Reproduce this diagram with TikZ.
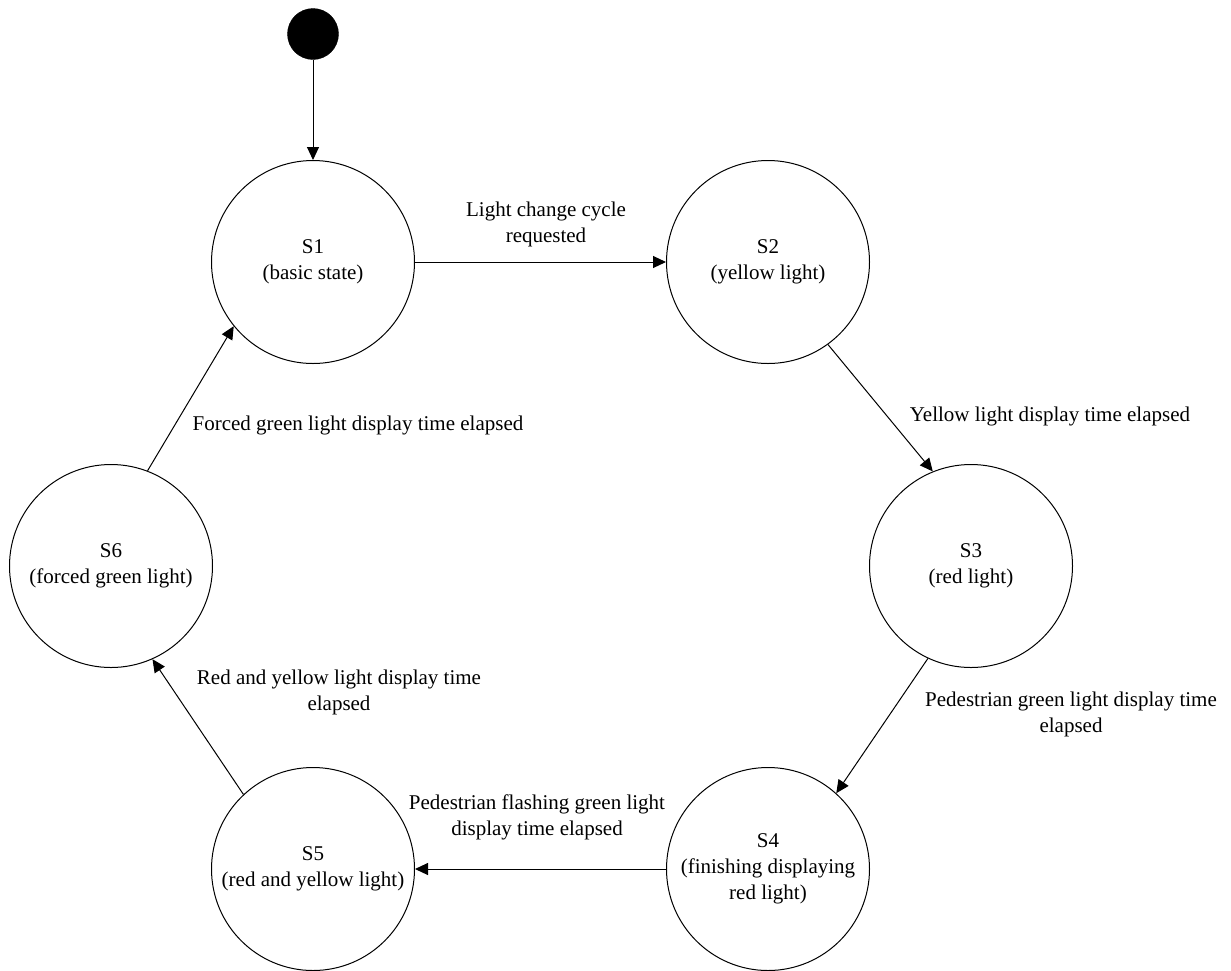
\documentclass[tikz,border=0pt]{standalone}
\usepackage{fontspec}
\setmainfont{Liberation Serif}
\usepackage{tikz}
\usetikzlibrary{positioning, arrows.meta}

\tikzset{
  state/.style={draw, circle, line width=1pt, minimum size=203pt, inner sep=0pt, align=center},
  startdot/.style={draw, circle, fill=black, minimum size=51pt, inner sep=0pt},
  trans/.style={line width=1pt, -{Triangle[length=13pt,width=12pt]}},
  cond/.style={align=center, inner sep=0pt}
}

\begin{document}
\begin{tikzpicture}[x=1pt, y=-1pt, node distance=455pt, font=\fontsize{21}{26}\selectfont]
\useasboundingbox (0,0) rectangle (1231,970);

\node (s1) [state] at (313,262) {S1\\(basic state)};
\node (s2) [state, right of=s1] {S2\\(yellow light)};
\node (s3) [state] at (971,566) {S3\\(red light)};
\node (s5) [state] at (313,869) {S5\\(red and yellow light)};
\node (s4) [state, right of=s5] {S4\\(finishing displaying\\red light)};
\node (s6) [state] at (111,566) {S6\\(forced green light)};
\node (init) [startdot] at (313,34) {};

% labels of the transitions
\node (c12) [cond] at (546,224) {Light change cycle\\requested};
\node (c23) [cond] at (1050,416) {Yellow light display time elapsed};
\node (c34) [cond] at (1071,714) {Pedestrian green light display time\\elapsed};
\node (c45) [cond] at (537,817) {Pedestrian flashing green light\\display time elapsed};
\node (c56) [cond] at (339,692) {Red and yellow light display time\\elapsed};
\node (c61) [cond] at (358,425) {Forced green light display time elapsed};

\draw[trans] (init) -- (s1.north);
\draw[trans] (s1.east) -- (s2.west);
\draw[trans] (s2.-54.6) -- (s3.112);
\draw[trans] (s3.245) -- (s4.48.5);
\draw[trans] (s4.west) -- (s5.east);
\draw[trans] (s5.133.3) -- (s6.-66.3);
\draw[trans] (s6.69.6) -- (s1.219);
\end{tikzpicture}
\end{document}
